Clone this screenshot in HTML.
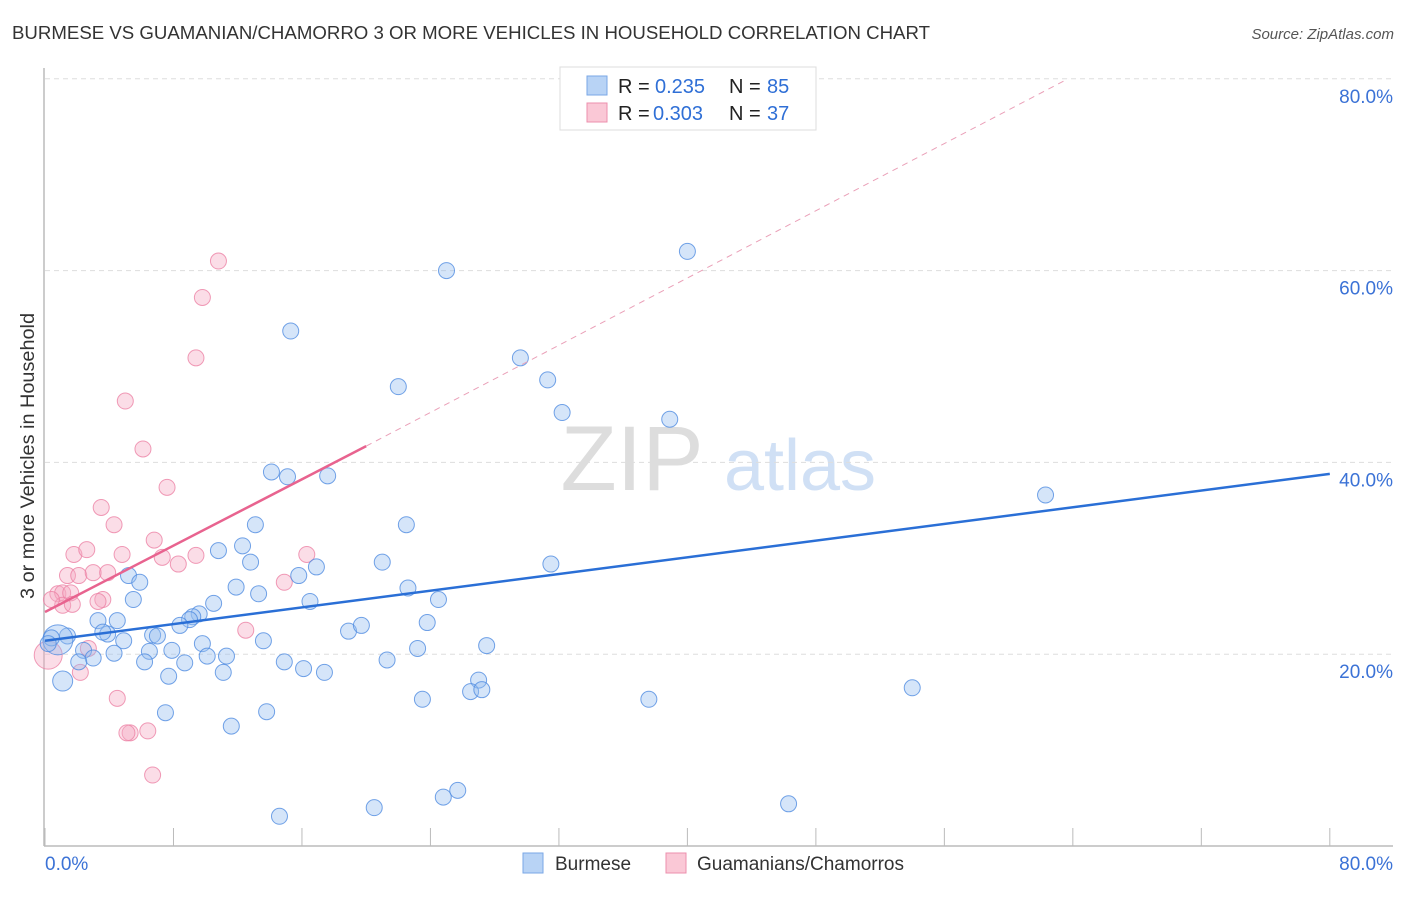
<!DOCTYPE html>
<html><head><meta charset="utf-8"><style>
body{margin:0;background:#fff;font-family:"Liberation Sans",sans-serif;}
svg text{font-family:"Liberation Sans",sans-serif;}
</style></head><body>
<svg id="c" width="1406" height="892" xmlns="http://www.w3.org/2000/svg">
<text x="12" y="39" font-size="18" fill="#333" textLength="918" lengthAdjust="spacingAndGlyphs">BURMESE VS GUAMANIAN/CHAMORRO 3 OR MORE VEHICLES IN HOUSEHOLD CORRELATION CHART</text>
<text x="1394" y="39" font-size="15" fill="#555" font-style="italic" text-anchor="end">Source: ZipAtlas.com</text>
<text x="34" y="456" font-size="19" fill="#333" text-anchor="middle" textLength="286" lengthAdjust="spacingAndGlyphs" transform="rotate(-90 34 456)">3 or more Vehicles in Household</text>
<g><text x="632" y="490" font-size="92" fill="#ddd" font-family="Liberation Serif" text-anchor="middle">ZIP</text><text x="800" y="490" font-size="72" fill="#d0e0f5" text-anchor="middle">atlas</text></g>
<g id="grid"></g><g id="axes"></g><g id="pts"></g><g id="lines"></g>
<g>
<rect x="560" y="67" width="256" height="63" fill="#fff" stroke="#ddd"/>
<rect x="587" y="76" width="20" height="19" fill="#b8d3f5" stroke="#7aa7e6"/>
<rect x="587" y="103" width="20" height="19" fill="#fac8d6" stroke="#ec8fad"/>
<text x="618" y="93" font-size="20" fill="#222">R =</text><text x="655" y="93" font-size="20" fill="#2f6fd6">0.235</text>
<text x="729" y="93" font-size="20" fill="#222">N =</text><text x="767" y="93" font-size="20" fill="#2f6fd6">85</text>
<text x="618" y="120" font-size="20" fill="#222">R =</text><text x="653" y="120" font-size="20" fill="#2f6fd6">0.303</text>
<text x="729" y="120" font-size="20" fill="#222">N =</text><text x="767" y="120" font-size="20" fill="#2f6fd6">37</text>
</g>
<g>
<rect x="523" y="853" width="20" height="20" fill="#b8d3f5" stroke="#7aa7e6"/>
<text x="555" y="870" font-size="19" fill="#333">Burmese</text>
<rect x="666" y="853" width="20" height="20" fill="#fac8d6" stroke="#ec8fad"/>
<text x="697" y="870" font-size="19" fill="#333">Guamanians/Chamorros</text>
</g>
</svg>
<script>
const yTicks=[20,40,60,80];
const yTickLabels=["20.0%","40.0%","60.0%","80.0%"];
const xTicks=[0,8,16,24,32,40,48,56,64,72,80];
const blueX=[15.3,25.0,40.0,29.6,31.3,22.0,32.2,38.9,62.3,14.1,15.1,17.6,22.5,13.1,12.3,10.8,12.8,21.0,31.5,16.9,15.8,5.2,5.9,11.9,22.6,13.3,5.5,10.5,16.5,24.5,9.6,9.2,9.0,8.4,4.5,3.3,18.9,19.7,23.8,6.7,7.0,3.9,3.6,4.9,1.4,0.8,0.4,0.2,13.6,27.5,23.2,9.8,7.9,6.5,4.3,2.4,3.0,2.1,6.2,8.7,11.3,10.1,14.9,21.3,16.1,17.4,11.1,7.7,1.1,27.0,26.5,27.2,23.5,37.6,54.0,7.5,13.8,11.6,14.6,20.5,24.8,25.7,46.3];
const blueY=[53.7,60.0,62.0,50.9,48.6,47.9,45.2,44.5,36.6,39.0,38.5,38.6,33.5,33.5,31.3,30.8,29.6,29.6,29.4,29.1,28.2,28.2,27.5,27.0,26.9,26.3,25.7,25.3,25.5,25.7,24.2,23.9,23.6,23.0,23.5,23.5,22.4,23.0,23.3,22.0,21.9,22.1,22.3,21.4,21.9,21.5,21.7,21.1,21.4,20.9,20.6,21.1,20.4,20.3,20.1,20.4,19.6,19.2,19.2,19.1,19.8,19.8,19.2,19.4,18.5,18.1,18.1,17.7,17.2,17.3,16.1,16.3,15.3,15.3,16.5,13.9,14.0,12.5,3.1,4.0,5.1,5.8,4.4];
const pinkX=[10.8,9.8,9.4,5.0,6.1,7.6,3.5,4.3,6.8,1.8,2.6,4.8,7.3,9.4,16.3,8.3,1.4,2.1,3.0,3.9,3.6,3.3,0.8,1.1,1.6,1.1,1.7,0.4,14.9,12.5,2.7,2.2,4.5,6.4,5.3,5.1,6.7,0.2];
const pinkY=[61.0,57.2,50.9,46.4,41.4,37.4,35.3,33.5,31.9,30.4,30.9,30.4,30.1,30.3,30.4,29.4,28.2,28.2,28.5,28.5,25.7,25.5,26.3,26.4,26.4,25.1,25.2,25.7,27.5,22.5,20.6,18.1,15.4,12.0,11.8,11.8,7.4,19.9];
const blueLine=[[0,21.4],[80,38.8]];
const pinkLine=[[0,24.4],[20,41.7]];
const pinkDash=[[20,41.7],[63.7,80]];
const NS="http://www.w3.org/2000/svg";
const sx=v=>45+v*16.06, sy=v=>846-v*9.59;
function mk(t,a,p){const e=document.createElementNS(NS,t);for(const k in a)e.setAttribute(k,a[k]);p.appendChild(e);return e;}
const grid=document.getElementById('grid'),axes=document.getElementById('axes');
yTicks.forEach((t,i)=>{
 const l=mk('line',{x1:45,x2:1393,y1:sy(t),y2:sy(t),stroke:'#ddd','stroke-dasharray':'5,4'},grid);
 
 
 const tx=mk('text',{x:1393,y:sy(t)+24,'font-size':19,fill:'#3b72d6','text-anchor':'end'},axes);tx.textContent=yTickLabels[i];
 
 
});
const ax=mk('line',{x1:44,x2:44,y1:68,y2:846,stroke:'#bbb','stroke-width':1.5},axes);


const bx=mk('line',{x1:44,x2:1393,y1:846,y2:846,stroke:'#bbb','stroke-width':1.5},axes);


xTicks.forEach(t=>{const k=mk('line',{x1:sx(t),x2:sx(t),y1:828,y2:846,stroke:'#bbb'},axes);
 
 });
let t0=mk('text',{x:45,y:870,'font-size':19,fill:'#3b72d6'},axes);t0.textContent='0.0%';


let t1=mk('text',{x:1393,y:870,'font-size':19,fill:'#3b72d6','text-anchor':'end'},axes);t1.textContent='80.0%';


const pts=document.getElementById('pts');
pinkX.forEach((x,i)=>{const c=mk('circle',{cx:sx(x),cy:sy(pinkY[i]),r:i==37?14:8,fill:'rgba(246,170,195,0.4)',stroke:'rgba(236,130,165,0.8)','stroke-width':1},pts);
 
 });
blueX.forEach((x,i)=>{const r=(i==45)?15:(i==68?10:8);const c=mk('circle',{cx:sx(x),cy:sy(blueY[i]),r:r,fill:'rgba(150,190,240,0.4)',stroke:'rgba(80,140,225,0.8)','stroke-width':1},pts);
 
 });
const lines=document.getElementById('lines');
function ln(p,col,w,d,name){const l=mk('line',{x1:sx(p[0][0]),y1:sy(p[0][1]),x2:sx(p[1][0]),y2:sy(p[1][1]),stroke:col,'stroke-width':w},lines);if(d)l.setAttribute('stroke-dasharray',d);
 
 }
ln(blueLine,'#2a6fd6',2.5,null,'trend-line-burmese');
ln(pinkLine,'#e8638f',2.5,null,'trend-line-guamanian');
ln(pinkDash,'#eaa0b8',1,'6,5','trend-line-guamanian-extension');
</script>
</body></html>
